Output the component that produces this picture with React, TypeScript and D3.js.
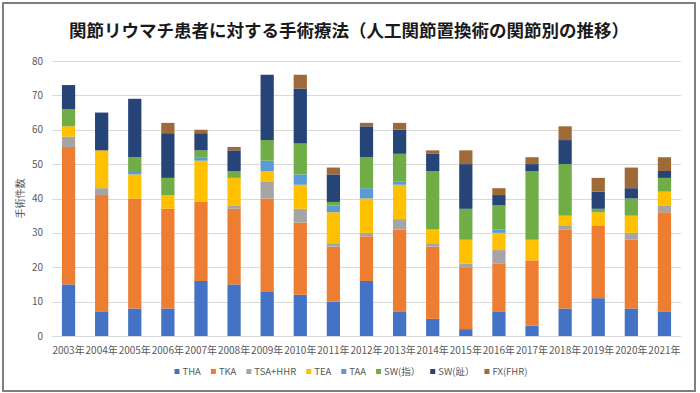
import * as d3 from 'd3';

const years = [
  '2003年', '2004年', '2005年', '2006年', '2007年', '2008年', '2009年', '2010年', '2011年', '2012年',
  '2013年', '2014年', '2015年', '2016年', '2017年', '2018年', '2019年', '2020年', '2021年'
];

const seriesNames = ['THA', 'TKA', 'TSA+HHR', 'TEA', 'TAA', 'SW(指）', 'SW(趾）', 'FX(FHR)'];
const seriesColors = ['#4472C4', '#ED7D31', '#A5A5A5', '#FFC000', '#5B9BD5', '#70AD47', '#264478', '#9E6A38'];

// one array per series, by year
const tha = [15, 7, 8, 8, 16, 15, 13, 12, 10, 16, 7, 5, 2, 7, 3, 8, 11, 8, 7];
const tka = [40, 34, 32, 29, 23, 22, 27, 21, 16, 13, 24, 21, 18, 14, 19, 23, 21, 20, 29];
const tsa = [3, 2, 0, 0, 0, 1, 5, 4, 1, 1, 3, 1, 1, 4, 0, 1, 0, 2, 2];
const tea = [3, 11, 7, 4, 12, 8, 3, 7, 9, 10, 10, 4, 7, 5, 6, 3, 4, 5, 4];
const taa = [0, 0, 1, 0, 1, 0, 3, 3, 2, 3, 1, 0, 0, 1, 0, 0, 0, 0, 0];
const swFinger = [5, 0, 4, 5, 2, 2, 6, 9, 1, 9, 8, 17, 9, 7, 20, 15, 1, 5, 4];
const swToe = [7, 11, 17, 13, 5, 6, 19, 16, 8, 9, 7, 5, 13, 3, 2, 7, 5, 3, 2];
const fx = [0, 0, 0, 3, 1, 1, 0, 4, 2, 1, 2, 1, 4, 2, 2, 4, 4, 6, 4];

const yTicks = [0, 10, 20, 30, 40, 50, 60, 70, 80];

const FONT = '"Noto Sans CJK JP", "Noto Sans", sans-serif';

const width = 700;
const height = 393;
const margin = { top: 61, right: 19, bottom: 57, left: 52 };

// rough text width for legend layout
const measure = (s: string, size: number): number => {
  const ctx = document.createElement('canvas').getContext('2d');
  if (!ctx) return s.length * size * 0.6;
  ctx.font = `${size}px ${FONT}`;
  return ctx.measureText(s).width;
};

export default function App() {
  const allSeries = [tha, tka, tsa, tea, taa, swFinger, swToe, fx];
  const rows = years.map((yr, i) => {
    const row: Record<string, number | string> = { year: yr };
    seriesNames.forEach((s, j) => {
      row[s] = allSeries[j][i];
    });
    return row;
  });

  const x = d3
    .scaleBand<string>()
    .domain(years)
    .range([margin.left, width - margin.right])
    .paddingInner(0.6)
    .paddingOuter(0.3);
  const y = d3
    .scaleLinear()
    .domain([0, 80])
    .range([height - margin.bottom, margin.top]);

  const stacked = d3.stack<Record<string, number | string>>().keys(seriesNames)(rows);

  // legend layout
  const legendSize = 9.5;
  const legendItems: { name: string; color: string; x: number }[] = [];
  let cx = 0;
  seriesNames.forEach((s, j) => {
    legendItems.push({ name: s, color: seriesColors[j], x: cx });
    cx += 8 + measure(s, legendSize) + 10;
  });
  const legendLeft = 351 - (cx - 10) / 2;

  return (
    <>
      <style>{'body { margin: 0; overflow: hidden; }'}</style>
      <svg width={width} height={height} style={{ display: 'block' }} fontFamily={FONT}>
        <rect x={3} y={3} width={692} height={388} fill="white" stroke="#7f7f7f" strokeWidth={2} />
        <text x={349} y={37} textAnchor="middle" fontWeight="bold" fontSize="17.5px" fill="#1a1a1a">
          関節リウマチ患者に対する手術療法（人工関節置換術の関節別の推移）
        </text>

        {yTicks.map((t) => (
          <g key={t}>
            <line
              x1={margin.left}
              x2={width - margin.right}
              y1={Math.round(y(t)) + 0.5}
              y2={Math.round(y(t)) + 0.5}
              stroke="#d9d9d9"
            />
            <text x={43} y={y(t)} dy="0.35em" textAnchor="end" fontSize="10px" fill="#595959">
              {t}
            </text>
          </g>
        ))}

        <text
          transform={`translate(24, ${(y(0) + y(80)) / 2}) rotate(-90)`}
          textAnchor="middle"
          fontSize="10px"
          fill="#595959"
        >
          手術件数
        </text>

        {stacked.map((layer, j) => (
          <g key={seriesNames[j]} fill={seriesColors[j]}>
            {layer.map((d) => (
              <rect
                key={d.data.year as string}
                x={x(d.data.year as string)}
                width={x.bandwidth()}
                y={y(d[1])}
                height={y(d[0]) - y(d[1])}
              />
            ))}
          </g>
        ))}

        {years.map((yr) => (
          <text
            key={yr}
            x={(x(yr) as number) + x.bandwidth() / 2}
            y={354}
            textAnchor="middle"
            fontSize="10px"
            fill="#595959"
          >
            {yr}
          </text>
        ))}

        <g transform={`translate(${legendLeft}, 372)`}>
          {legendItems.map((it) => (
            <g key={it.name} transform={`translate(${it.x}, 0)`}>
              <rect x={0} y={-3} width={5} height={5} fill={it.color} />
              <text x={8} y={0} dy="0.35em" fontSize={`${legendSize}px`} fill="#595959">
                {it.name}
              </text>
            </g>
          ))}
        </g>
      </svg>
    </>
  );
}
